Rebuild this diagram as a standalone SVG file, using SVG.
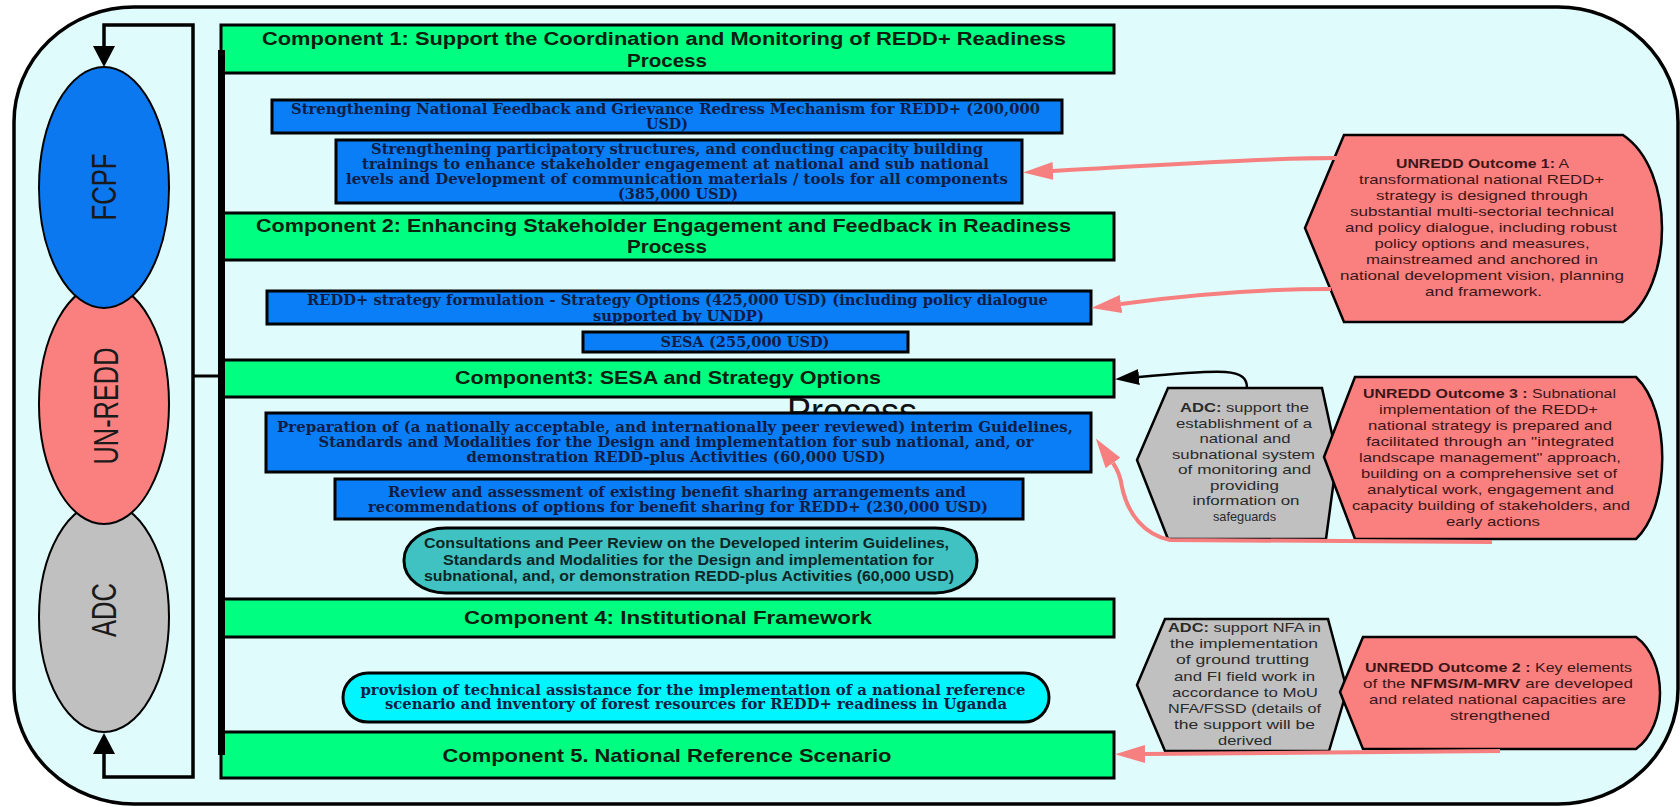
<svg xmlns="http://www.w3.org/2000/svg" width="1680" height="807" viewBox="0 0 1680 807">
<style>
.bar{fill:#00ff80;stroke:#000;stroke-width:3}
.blue{fill:#0a7ef7;stroke:#000;stroke-width:3}
.out{fill:#fa8080;stroke:#000;stroke-width:2.5}
.hex{fill:#c0c0c0;stroke:#000;stroke-width:2.5}
text{text-anchor:middle}
.tg{font-family:"Liberation Sans",Arial,sans-serif;font-weight:bold;font-size:19px;fill:#0b200f}
.tb{font-family:"DejaVu Serif","Liberation Serif",serif;font-weight:bold;font-size:14px;fill:#0f1d45}
.tc{font-family:"Liberation Sans",Arial,sans-serif;font-weight:bold;font-size:14px;fill:#0f2626}
.to{font-family:"Liberation Sans",Arial,sans-serif;font-size:13px;fill:#3c1616}
.ta{font-family:"Liberation Sans",Arial,sans-serif;font-size:13px;fill:#2a2a2a}
.b{font-weight:bold}
.el{font-family:"Liberation Sans",Arial,sans-serif;font-size:35px;fill:#1a1a1a}
.ln{fill:none;stroke:#000}
.pk{fill:none;stroke:#f68080;stroke-width:4}
</style>
<defs>
<marker id="ab" markerUnits="userSpaceOnUse" markerWidth="22" markerHeight="24" refX="0" refY="11" orient="auto-start-reverse"><path d="M0,0 L21,11 L0,22 z" fill="#000"/></marker>
<marker id="ak" markerUnits="userSpaceOnUse" markerWidth="26" markerHeight="18" refX="0" refY="8" orient="auto"><path d="M0,0 L24,8 L0,16 z" fill="#000"/></marker>
<marker id="ap" markerUnits="userSpaceOnUse" markerWidth="32" markerHeight="20" refX="0" refY="9" orient="auto"><path d="M0,0 L30,9 L0,18 z" fill="#f68080"/></marker>
</defs>
<rect width="1680" height="807" fill="#fff"/>
<rect id="frame" x="14" y="7" width="1664" height="797" rx="120" ry="115" fill="#e0fbfb" stroke="#000" stroke-width="3.5"/>

<g id="adc">
<ellipse cx="104" cy="617" rx="65" ry="115" fill="#c0c0c0" stroke="#000" stroke-width="2"/>
<text class="el" transform="translate(116,610) rotate(-90)" textLength="54" lengthAdjust="spacingAndGlyphs">ADC</text>
</g>
<g id="unredd">
<ellipse cx="104" cy="404" rx="65" ry="120" fill="#fa8080" stroke="#000" stroke-width="2"/>
<text class="el" transform="translate(118,406) rotate(-90)" textLength="117" lengthAdjust="spacingAndGlyphs">UN-REDD</text>
</g>
<g id="fcpf">
<ellipse cx="104" cy="187.5" rx="65" ry="120.5" fill="#0b78f0" stroke="#000" stroke-width="2"/>
<text class="el" transform="translate(116,187) rotate(-90)" textLength="67" lengthAdjust="spacingAndGlyphs">FCPF</text>
</g>

<g id="comp1">
<rect class="bar" x="221" y="25" width="893" height="48"/>
<text class="tg" x="664" y="45" textLength="804" lengthAdjust="spacingAndGlyphs">Component 1: Support the Coordination and Monitoring of REDD+ Readiness</text>
<text class="tg" x="667" y="67" textLength="80" lengthAdjust="spacingAndGlyphs">Process</text>
</g>
<g id="feedback">
<rect class="blue" x="272" y="100" width="790" height="33"/>
<text class="tb" x="665.5" y="114" textLength="749" lengthAdjust="spacingAndGlyphs">Strengthening National Feedback and Grievance Redress Mechanism for REDD+ (200,000</text>
<text class="tb" x="667" y="129" textLength="42" lengthAdjust="spacingAndGlyphs">USD)</text>
</g>
<g id="participatory">
<rect class="blue" x="336" y="140" width="686" height="63"/>
<text class="tb" x="677" y="154" textLength="612" lengthAdjust="spacingAndGlyphs">Strengthening participatory structures, and conducting capacity building</text>
<text class="tb" x="675.5" y="169" textLength="627" lengthAdjust="spacingAndGlyphs">trainings to enhance stakeholder engagement at national and sub national</text>
<text class="tb" x="677" y="184" textLength="662" lengthAdjust="spacingAndGlyphs">levels and Development of communication materials / tools for all components</text>
<text class="tb" x="678" y="199" textLength="120" lengthAdjust="spacingAndGlyphs">(385,000 USD)</text>
</g>
<g id="comp2">
<rect class="bar" x="221" y="213" width="893" height="47"/>
<text class="tg" x="663.5" y="232" textLength="815" lengthAdjust="spacingAndGlyphs">Component 2: Enhancing Stakeholder Engagement and Feedback in Readiness</text>
<text class="tg" x="667" y="253" textLength="80" lengthAdjust="spacingAndGlyphs">Process</text>
</g>
<g id="strategy">
<rect class="blue" x="267" y="291" width="824" height="33"/>
<text class="tb" x="677.5" y="305" textLength="741" lengthAdjust="spacingAndGlyphs">REDD+ strategy formulation - Strategy Options (425,000 USD) (including policy dialogue</text>
<text class="tb" x="678.5" y="321" textLength="171" lengthAdjust="spacingAndGlyphs">supported by UNDP)</text>
</g>
<g id="sesa">
<rect class="blue" x="583" y="332" width="325" height="20"/>
<text class="tb" x="745" y="347" textLength="169" lengthAdjust="spacingAndGlyphs">SESA (255,000 USD)</text>
</g>
<g id="comp3">
<rect class="bar" x="221" y="360" width="893" height="37"/>
<text class="tg" x="668" y="384" textLength="426" lengthAdjust="spacingAndGlyphs">Component3: SESA and Strategy Options</text>
</g>
<text id="stray" x="852" y="424" font-family="Liberation Sans, Arial, sans-serif" font-size="36" fill="#111" textLength="130" lengthAdjust="spacingAndGlyphs">Process</text>
<g id="preparation">
<rect class="blue" x="266" y="413" width="825" height="59"/>
<text class="tb" x="675" y="432" textLength="796" lengthAdjust="spacingAndGlyphs">Preparation of (a nationally acceptable, and internationally peer reviewed) interim Guidelines,</text>
<text class="tb" x="676" y="447" textLength="715" lengthAdjust="spacingAndGlyphs">Standards and Modalities for the Design and implementation for sub national, and, or</text>
<text class="tb" x="676" y="462" textLength="419" lengthAdjust="spacingAndGlyphs">demonstration REDD-plus Activities (60,000 USD)</text>
</g>
<g id="review">
<rect class="blue" x="335" y="479" width="688" height="40"/>
<text class="tb" x="677" y="497" textLength="578" lengthAdjust="spacingAndGlyphs">Review and assessment of existing benefit sharing arrangements and</text>
<text class="tb" x="678" y="512" textLength="620" lengthAdjust="spacingAndGlyphs">recommendations of options for benefit sharing for REDD+ (230,000 USD)</text>
</g>
<g id="consultations">
<rect x="404" y="528" width="573" height="65" rx="42" ry="32" fill="#40c2c2" stroke="#000" stroke-width="3"/>
<text class="tc" x="686.5" y="548" textLength="525" lengthAdjust="spacingAndGlyphs">Consultations and Peer Review on the Developed interim Guidelines,</text>
<text class="tc" x="688.5" y="565" textLength="491" lengthAdjust="spacingAndGlyphs">Standards and Modalities for the Design and implementation for</text>
<text class="tc" x="689" y="581" textLength="530" lengthAdjust="spacingAndGlyphs">subnational, and, or demonstration REDD-plus Activities (60,000 USD)</text>
</g>
<g id="comp4">
<rect class="bar" x="221" y="599" width="893" height="38"/>
<text class="tg" x="668" y="624" textLength="408" lengthAdjust="spacingAndGlyphs">Component 4: Institutional Framework</text>
</g>
<g id="provision">
<rect x="343" y="673" width="706" height="49" rx="25" ry="25" fill="#00f5ff" stroke="#000" stroke-width="3"/>
<text class="tb" x="693" y="695" textLength="665" lengthAdjust="spacingAndGlyphs">provision of technical assistance for the implementation of a national reference</text>
<text class="tb" x="696" y="709" textLength="622" lengthAdjust="spacingAndGlyphs">scenario and inventory of forest resources for REDD+ readiness in Uganda</text>
</g>
<g id="comp5">
<rect class="bar" x="221" y="732" width="893" height="46"/>
<text class="tg" x="667" y="762" textLength="449" lengthAdjust="spacingAndGlyphs">Component 5. National Reference Scenario</text>
</g>

<g id="outcome1">
<path class="out" d="M1305,228 L1344,135 L1623,135 C1675,170 1675,287 1623,322 L1344,322 Z"/>
<text class="to" x="1482.5" y="168" textLength="173" lengthAdjust="spacingAndGlyphs"><tspan class="b">UNREDD Outcome 1:</tspan> A</text>
<text class="to" x="1481.5" y="184" textLength="245" lengthAdjust="spacingAndGlyphs">transformational national REDD+</text>
<text class="to" x="1482" y="200" textLength="212" lengthAdjust="spacingAndGlyphs">strategy is designed through</text>
<text class="to" x="1482" y="216" textLength="264" lengthAdjust="spacingAndGlyphs">substantial multi-sectorial technical</text>
<text class="to" x="1481" y="232" textLength="272" lengthAdjust="spacingAndGlyphs">and policy dialogue, including robust</text>
<text class="to" x="1482" y="248" textLength="215" lengthAdjust="spacingAndGlyphs">policy options and measures,</text>
<text class="to" x="1482" y="264" textLength="232" lengthAdjust="spacingAndGlyphs">mainstreamed and anchored in</text>
<text class="to" x="1482" y="280" textLength="284" lengthAdjust="spacingAndGlyphs">national development vision, planning</text>
<text class="to" x="1483.5" y="296" textLength="117" lengthAdjust="spacingAndGlyphs">and framework.</text>
</g>

<g id="adc1">
<path class="hex" d="M1137,460 L1168,388 L1322,388 L1337,457 L1326,539 L1168,539 Z"/>
<text class="ta" x="1244.5" y="412" textLength="129" lengthAdjust="spacingAndGlyphs"><tspan class="b">ADC:</tspan> support the</text>
<text class="ta" x="1244" y="427.5" textLength="136" lengthAdjust="spacingAndGlyphs">establishment of a</text>
<text class="ta" x="1245" y="443" textLength="91" lengthAdjust="spacingAndGlyphs">national and</text>
<text class="ta" x="1243.5" y="458.5" textLength="143" lengthAdjust="spacingAndGlyphs">subnational system</text>
<text class="ta" x="1244.5" y="474" textLength="133" lengthAdjust="spacingAndGlyphs">of monitoring and</text>
<text class="ta" x="1244.5" y="489.5" textLength="69" lengthAdjust="spacingAndGlyphs">providing</text>
<text class="ta" x="1246" y="505" textLength="107" lengthAdjust="spacingAndGlyphs">information on</text>
<text class="ta" x="1244.5" y="520.5" textLength="63" lengthAdjust="spacingAndGlyphs">safeguards</text>
</g>

<g id="outcome3">
<path class="out" d="M1324,457 L1355,377 L1636,377 C1671,410 1671,506 1636,539 L1355,539 Z"/>
<text class="to" x="1489.5" y="398" textLength="253" lengthAdjust="spacingAndGlyphs"><tspan class="b">UNREDD Outcome 3 :</tspan> Subnational</text>
<text class="to" x="1488.5" y="414" textLength="219" lengthAdjust="spacingAndGlyphs">implementation of the REDD+</text>
<text class="to" x="1490" y="430" textLength="244" lengthAdjust="spacingAndGlyphs">national strategy is prepared and</text>
<text class="to" x="1490" y="446" textLength="248" lengthAdjust="spacingAndGlyphs">facilitated through an "integrated</text>
<text class="to" x="1490" y="462" textLength="262" lengthAdjust="spacingAndGlyphs">landscape management" approach,</text>
<text class="to" x="1489" y="478" textLength="256" lengthAdjust="spacingAndGlyphs">building on a comprehensive set of</text>
<text class="to" x="1490.5" y="494" textLength="247" lengthAdjust="spacingAndGlyphs">analytical work, engagement and</text>
<text class="to" x="1491" y="510" textLength="278" lengthAdjust="spacingAndGlyphs">capacity building of stakeholders, and</text>
<text class="to" x="1493" y="526" textLength="94" lengthAdjust="spacingAndGlyphs">early actions</text>
</g>

<g id="adc2">
<path class="hex" d="M1137,685 L1165,619 L1328,619 L1347,690 L1329,751 L1165,751 Z"/>
<text class="ta" x="1244.5" y="632" textLength="153" lengthAdjust="spacingAndGlyphs"><tspan class="b">ADC:</tspan> support NFA in</text>
<text class="ta" x="1244" y="648" textLength="148" lengthAdjust="spacingAndGlyphs">the implementation</text>
<text class="ta" x="1242.5" y="664" textLength="133" lengthAdjust="spacingAndGlyphs">of ground trutting</text>
<text class="ta" x="1244.5" y="680.5" textLength="141" lengthAdjust="spacingAndGlyphs">and FI field work in</text>
<text class="ta" x="1245" y="697" textLength="146" lengthAdjust="spacingAndGlyphs">accordance to MoU</text>
<text class="ta" x="1244.5" y="713" textLength="153" lengthAdjust="spacingAndGlyphs">NFA/FSSD (details of</text>
<text class="ta" x="1244.5" y="729" textLength="141" lengthAdjust="spacingAndGlyphs">the support will be</text>
<text class="ta" x="1245" y="745" textLength="54" lengthAdjust="spacingAndGlyphs">derived</text>
</g>

<g id="outcome2">
<path class="out" d="M1340,692 L1363,637 L1636,637 C1668,660 1668,726 1636,749 L1363,749 Z"/>
<text class="to" x="1498.5" y="672" textLength="267" lengthAdjust="spacingAndGlyphs"><tspan class="b">UNREDD Outcome 2 :</tspan> Key elements</text>
<text class="to" x="1498" y="688" textLength="270" lengthAdjust="spacingAndGlyphs">of the <tspan class="b">NFMS/M-MRV</tspan> are developed</text>
<text class="to" x="1497.5" y="704" textLength="257" lengthAdjust="spacingAndGlyphs">and related national capacities are</text>
<text class="to" x="1500" y="720" textLength="100" lengthAdjust="spacingAndGlyphs">strengthened</text>
</g>

<g id="connectors">
<path class="ln" stroke-width="3.5" d="M104,46 L104,25 L193,25 L193,777 L104,777 L104,754" marker-start="url(#ab)" marker-end="url(#ab)"/>
<path class="ln" stroke-width="3" d="M193,376 L220,376"/>
<path class="ln" stroke-width="7" d="M221.5,50 L221.5,755"/>
<path class="ln" stroke-width="2.5" d="M1247,388 C1247,368 1225,369 1139,377" marker-end="url(#ak)"/>
<path class="pk" d="M1337,158 C1250,158 1150,166 1053,171" marker-end="url(#ap)"/>
<path class="pk" d="M1331,289 C1250,289 1180,296 1121,304" marker-end="url(#ap)"/>
<path class="pk" d="M1492,542 L1170,540 C1145,535 1128,515 1122,487 Q1120,473 1113,463" marker-end="url(#ap)"/>
<path class="pk" d="M1500,751 L1145,754" marker-end="url(#ap)"/>
</g>
</svg>
